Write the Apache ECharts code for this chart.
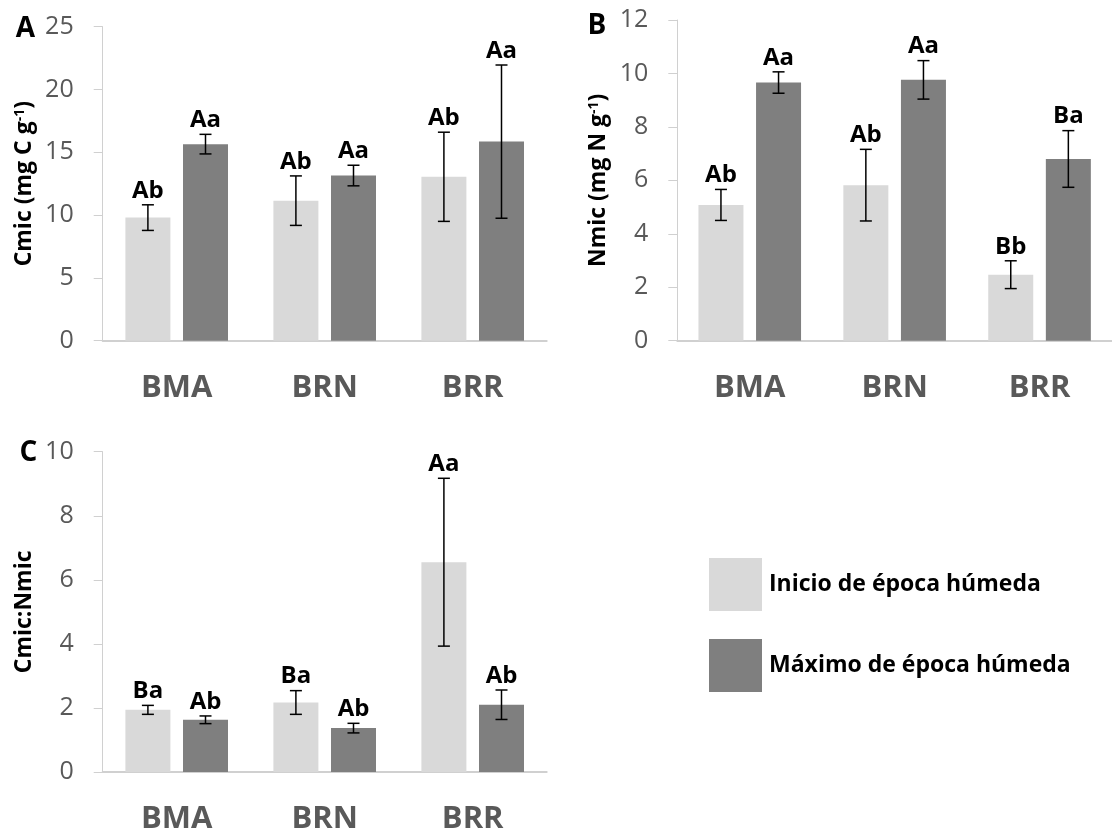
<!DOCTYPE html>
<html>
<head>
<meta charset="utf-8">
<script src="https://cdn.jsdelivr.net/npm/echarts@6/dist/echarts.min.js"></script>
<style>
  html, body { margin: 0; padding: 0; background: #fff; }
  #chart { width: 1112px; height: 835px; }
</style>
</head>
<body>
<div id="chart"></div>
<script>
const categories = ['BMA', 'BRN', 'BRR']
const seriesNames = ['Inicio de época húmeda', 'Máximo de época húmeda']

// A - Cmic
const cmicInicio = [9.8, 11.15, 13.05]
const cmicInicioErr = [1.02, 1.97, 3.55]
const cmicInicioLab = ['Ab', 'Ab', 'Ab']
const cmicMax = [15.65, 13.15, 15.85]
const cmicMaxErr = [0.78, 0.82, 6.1]
const cmicMaxLab = ['Aa', 'Aa', 'Aa']

// B - Nmic
const nmicInicio = [5.08, 5.82, 2.47]
const nmicInicioErr = [0.58, 1.34, 0.52]
const nmicInicioLab = ['Ab', 'Ab', 'Bb']
const nmicMax = [9.66, 9.76, 6.8]
const nmicMaxErr = [0.4, 0.72, 1.06]
const nmicMaxLab = ['Aa', 'Aa', 'Ba']

// C - Cmic:Nmic
const ratioInicio = [1.94, 2.17, 6.55]
const ratioInicioErr = [0.14, 0.37, 2.62]
const ratioInicioLab = ['Ba', 'Ba', 'Aa']
const ratioMax = [1.63, 1.37, 2.1]
const ratioMaxErr = [0.12, 0.15, 0.46]
const ratioMaxLab = ['Ab', 'Ab', 'Ab']

const yMax = [25, 12, 10]
const yStep = [5, 2, 2]
const yNames = ['Cmic (mg C g{sup|-1})', 'Nmic (mg N g{sup|-1})', 'Cmic:Nmic']
const panelLetters = ['A', 'B', 'C']

const panels = [
  { inicio: cmicInicio, inicioErr: cmicInicioErr, inicioLab: cmicInicioLab, max: cmicMax, maxErr: cmicMaxErr, maxLab: cmicMaxLab },
  { inicio: nmicInicio, inicioErr: nmicInicioErr, inicioLab: nmicInicioLab, max: nmicMax, maxErr: nmicMaxErr, maxLab: nmicMaxLab },
  { inicio: ratioInicio, inicioErr: ratioInicioErr, inicioLab: ratioInicioLab, max: ratioMax, maxErr: ratioMaxErr, maxLab: ratioMaxLab },
]

const FONT = 'Open Sans'
const LIGHT = '#d9d9d9'
const DARK = '#7f7f7f'
const AXIS = '#d0d0d0'
const BAR_W = 45
const GAP_PCT = 28
const OFFSET = (BAR_W + BAR_W * GAP_PCT / 100) / 2

const grids = [
  { left: 102.7, top: 26.7, width: 444, height: 314 },
  { left: 677.3, top: 20, width: 444, height: 320.7 },
  { left: 102.7, top: 451.7, width: 444, height: 320.6 },
]
const letterPos = [[25.5, 29], [597, 26], [28.5, 453]]

function errorSeries(i, values, errs, labels, offset) {
  return {
    type: 'custom', xAxisIndex: i, yAxisIndex: i, z: 10, silent: true,
    data: values.map((v, j) => [j, v - errs[j], v + errs[j]]),
    encode: { x: 0, y: [1, 2] },
    renderItem: (params, api) => {
      const j = api.value(0)
      const x = api.coord([j, 0])[0] + offset
      const yHi = api.coord([j, api.value(2)])[1]
      const yLo = api.coord([j, api.value(1)])[1]
      const st = { stroke: '#000', lineWidth: 1.5 }
      return {
        type: 'group',
        children: [
          { type: 'line', shape: { x1: x, y1: yHi, x2: x, y2: yLo }, style: st },
          { type: 'line', shape: { x1: x - 6, y1: yHi, x2: x + 6, y2: yHi }, style: st },
          { type: 'line', shape: { x1: x - 6, y1: yLo, x2: x + 6, y2: yLo }, style: st },
          {
            type: 'text', x: x, y: yHi - 2,
            style: {
              text: labels[params.dataIndex], align: 'center', verticalAlign: 'bottom',
              fontSize: 24, fontWeight: 'bold', fontFamily: FONT, fill: '#000',
            },
          },
        ],
      }
    },
  }
}

const series = []
panels.forEach((p, i) => {
  series.push({
    name: seriesNames[0], type: 'bar', xAxisIndex: i, yAxisIndex: i,
    data: p.inicio, barWidth: BAR_W, barGap: GAP_PCT + '%',
    itemStyle: { color: LIGHT },
  })
  series.push({
    name: seriesNames[1], type: 'bar', xAxisIndex: i, yAxisIndex: i,
    data: p.max, barWidth: BAR_W, barGap: GAP_PCT + '%',
    itemStyle: { color: DARK },
  })
  series.push(errorSeries(i, p.inicio, p.inicioErr, p.inicioLab, -OFFSET))
  series.push(errorSeries(i, p.max, p.maxErr, p.maxLab, OFFSET))
})

const option = {
  animation: false,
  backgroundColor: '#fff',
  textStyle: { fontFamily: FONT },
  legend: {
    data: seriesNames, orient: 'vertical', left: 704, top: 553,
    itemWidth: 53, itemHeight: 53, itemGap: 28, icon: 'rect', selectedMode: false,
    textStyle: { fontSize: 23, fontWeight: 'bold', color: '#000', fontFamily: FONT, padding: [0, 0, 0, 2] },
  },
  grid: grids,
  xAxis: grids.map((g, i) => ({
    type: 'category', gridIndex: i, data: categories,
    axisLine: { lineStyle: { color: AXIS, width: 2 } },
    axisTick: { show: false },
    axisLabel: { fontSize: 31, fontWeight: 'bold', color: '#595959', margin: 32, fontFamily: FONT },
  })),
  yAxis: grids.map((g, i) => ({
    type: 'value', gridIndex: i, min: 0, max: yMax[i], interval: yStep[i],
    name: yNames[i], nameLocation: 'middle', nameGap: 67,
    nameTextStyle: {
      fontSize: 23, fontWeight: 'bold', color: '#000', fontFamily: FONT,
      rich: { sup: { fontSize: 14, fontWeight: 'bold', color: '#000', verticalAlign: 'top', fontFamily: FONT } },
    },
    axisLine: { show: true, lineStyle: { color: AXIS, width: 1 } },
    axisTick: { show: true, length: 9, lineStyle: { color: AXIS } },
    axisLabel: { fontSize: 25, color: '#595959', margin: 29, fontFamily: FONT },
    splitLine: { show: false },
  })),
  graphic: panelLetters.map((t, i) => ({
    type: 'text', x: letterPos[i][0], y: letterPos[i][1],
    style: { text: t, align: 'center', verticalAlign: 'middle', fontSize: 28, fontWeight: 'bold', fontFamily: FONT, fill: '#000' },
  })),
  series,
}

const chart = echarts.init(document.getElementById('chart'), null, { renderer: 'canvas' })
chart.setOption(option)
</script>
</body>
</html>
